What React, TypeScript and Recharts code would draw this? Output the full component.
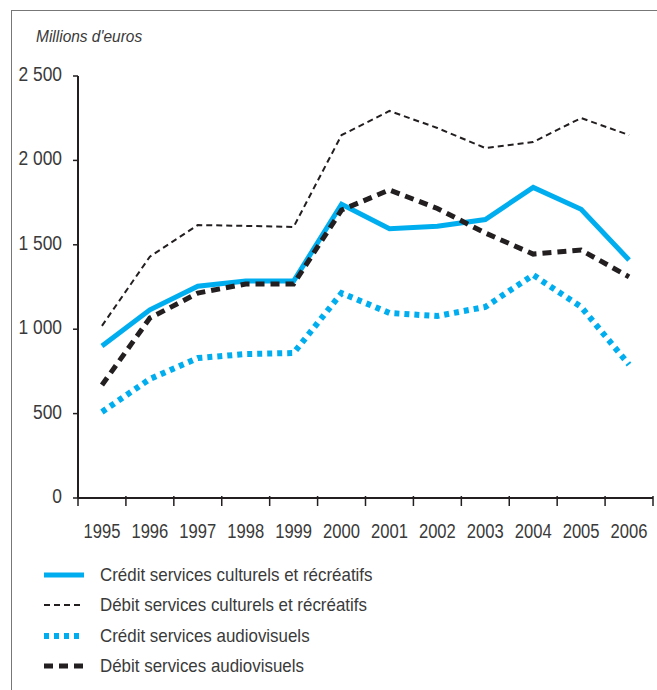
import { Line, LineChart, XAxis, YAxis } from "recharts";

const YEARS = ["1995", "1996", "1997", "1998", "1999", "2000", "2001", "2002", "2003", "2004", "2005", "2006"];
const CREDIT_CULT = [900, 1115, 1255, 1285, 1285, 1740, 1595, 1610, 1650, 1840, 1710, 1410];
const DEBIT_CULT = [1020, 1430, 1617, 1612, 1606, 2150, 2293, 2192, 2073, 2109, 2251, 2150];
const CREDIT_AV = [510, 705, 829, 853, 859, 1214, 1096, 1078, 1132, 1321, 1132, 790];
const DEBIT_AV = [669, 1066, 1214, 1268, 1268, 1706, 1825, 1715, 1570, 1445, 1469, 1310];
const Y_TICKS = [0, 500, 1000, 1500, 2000, 2500];

const LABELS = [
  "Crédit services culturels et récréatifs",
  "Débit services culturels et récréatifs",
  "Crédit services audiovisuels",
  "Débit services audiovisuels",
];

const BLUE = "#00aeef";
const INK = "#231f20";
const TEXT = "#3a3a3a";
// no condensed font installed, so Liberation Sans gets squeezed horizontally
const FONT = "'Liberation Sans', Arial, sans-serif";

const PLOT_W = 575;

const data = YEARS.map((year, i) => ({
  year,
  creditCult: CREDIT_CULT[i],
  debitCult: DEBIT_CULT[i],
  creditAv: CREDIT_AV[i],
  debitAv: DEBIT_AV[i],
}));

// series styles, used by both lines and the legend
const SERIES = [
  { key: "creditCult", color: BLUE, width: 5, dash: undefined as string | undefined },
  { key: "debitCult", color: INK, width: 2, dash: "6 4" },
  { key: "creditAv", color: BLUE, width: 6, dash: "5 5" },
  { key: "debitAv", color: INK, width: 5, dash: "9 6" },
];

const fmt = (v: number) => String(v).replace(/\B(?=(\d{3})+(?!\d))/g, " ");

function XTick(props: any) {
  const { x, y, payload, index } = props;
  const bw = PLOT_W / YEARS.length;
  return (
    <g>
      <line x1={x - bw / 2} x2={x - bw / 2} y1={y - 2} y2={y + 8} stroke={INK} strokeWidth={1.5} />
      {index === YEARS.length - 1 && (
        <line x1={x + bw / 2} x2={x + bw / 2} y1={y - 2} y2={y + 8} stroke={INK} strokeWidth={1.5} />
      )}
      <text
        transform={`translate(${x},${y + 40}) scale(0.79,1)`}
        textAnchor="middle"
        fill={TEXT}
        fontSize={21}
        fontFamily={FONT}
      >
        {payload.value}
      </text>
    </g>
  );
}

function YTick(props: any) {
  const { x, y, payload } = props;
  return (
    <text
      transform={`translate(${x},${y + 5}) scale(0.87,1)`}
      textAnchor="end"
      fill={TEXT}
      fontSize={20}
      fontFamily={FONT}
    >
      {fmt(payload.value)}
    </text>
  );
}

const squeeze = (sx: number) => ({
  display: "inline-block",
  transform: `scaleX(${sx})`,
  transformOrigin: "left center",
  whiteSpace: "nowrap" as const,
});

export default function App() {
  return (
    <div
      style={{
        position: "absolute",
        left: 0,
        top: 0,
        width: 657,
        height: 690,
        background: "#fff",
        fontFamily: FONT,
        color: TEXT,
        overflow: "hidden",
      }}
    >
      <div
        style={{
          position: "absolute",
          left: 11,
          top: 10,
          width: 700,
          height: 700,
          borderLeft: "1.5px solid #777",
          borderTop: "1.5px solid #777",
        }}
      />
      <div style={{ position: "absolute", left: 36, top: 27, fontSize: 17, fontStyle: "italic", lineHeight: "20px" }}>
        <span style={squeeze(0.91)}>Millions d'euros</span>
      </div>
      <div style={{ position: "absolute", left: 0, top: 0 }}>
        <LineChart width={657} height={690} data={data} margin={{ top: 76, right: 4, bottom: 152, left: 0 }}>
          <XAxis
            dataKey="year"
            scale="band"
            height={40}
            interval={0}
            tickSize={0}
            tickMargin={0}
            tickLine={false}
            axisLine={{ stroke: INK, strokeWidth: 2 }}
            tick={<XTick />}
          />
          <YAxis
            width={78}
            domain={[0, 2500]}
            ticks={Y_TICKS}
            interval={0}
            tickSize={5}
            tickMargin={11}
            axisLine={{ stroke: INK, strokeWidth: 2 }}
            tickLine={{ stroke: INK, strokeWidth: 1.5 }}
            tick={<YTick />}
          />
          {SERIES.map((s) => (
            <Line
              key={s.key}
              dataKey={s.key}
              type="linear"
              stroke={s.color}
              strokeWidth={s.width}
              strokeDasharray={s.dash}
              strokeLinejoin="miter"
              dot={false}
              activeDot={false}
              isAnimationActive={false}
            />
          ))}
        </LineChart>
      </div>
      {SERIES.map((s, i) => (
        <div
          key={s.key}
          style={{ position: "absolute", left: 44, top: 561 + i * 30.4, height: 28, display: "flex", alignItems: "center" }}
        >
          <svg width={40} height={10} style={{ display: "block" }}>
            <line x1={0} x2={40} y1={5} y2={5} stroke={s.color} strokeWidth={s.width} strokeDasharray={s.dash} />
          </svg>
          <span style={{ marginLeft: 16, fontSize: 19, ...squeeze(0.89) }}>{LABELS[i]}</span>
        </div>
      ))}
    </div>
  );
}
